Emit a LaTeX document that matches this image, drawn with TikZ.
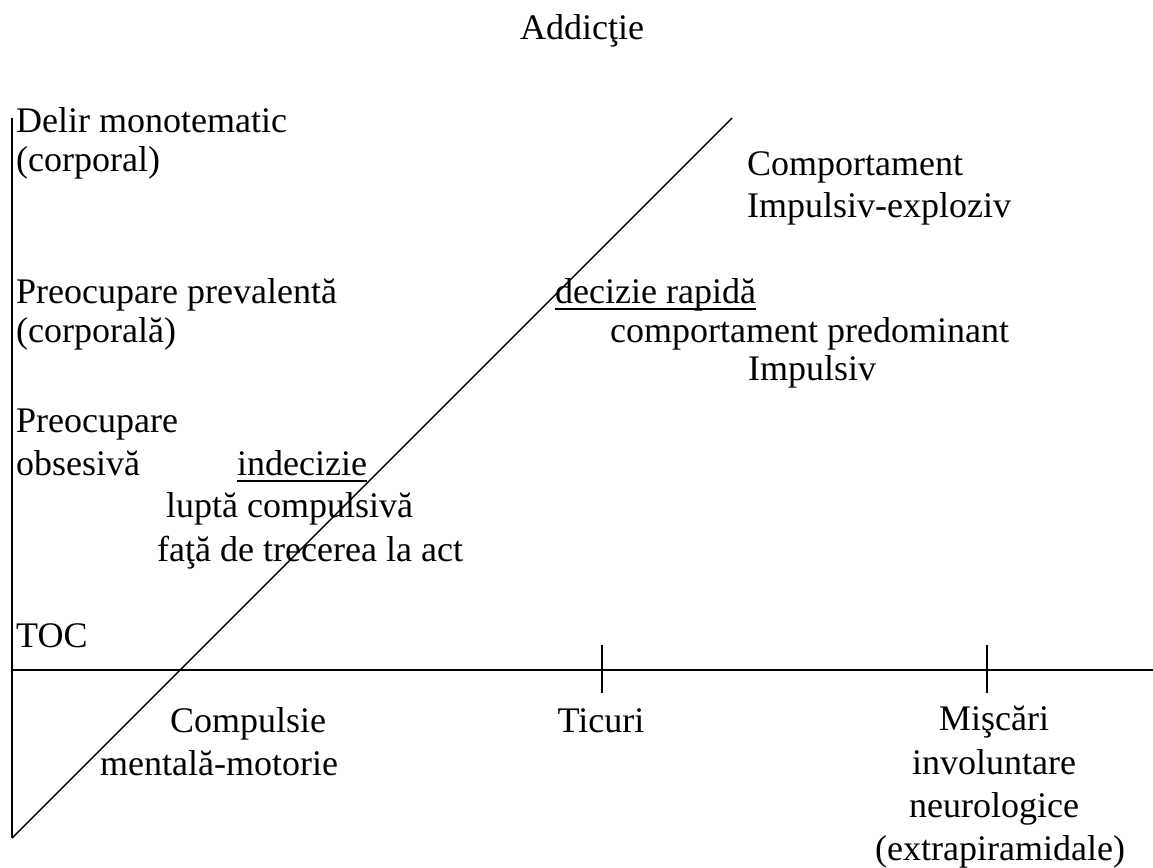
\documentclass[tikz,border=0pt]{standalone}
\usepackage{fontspec}
\setmainfont{Liberation Serif}
\begin{document}
\begin{tikzpicture}[x=1pt,y=-1pt,
  lbl/.style={anchor=base west,inner sep=0pt,font=\fontsize{36}{42}\selectfont},
  clbl/.style={anchor=base,inner sep=0pt,font=\fontsize{36}{42}\selectfont},
  axis/.style={line width=1.8pt},
  diag/.style={line width=1.4pt},
  uline/.style={line width=1.8pt}]
\useasboundingbox (0,0) rectangle (1153,867);
% axes
\coordinate (vtop) at (12,118);
\coordinate (orig) at (12,838);
\coordinate (hleft) at (12,670);
\coordinate (hright) at (1153,670);
\coordinate (dtop) at (732,118);
\coordinate (t1a) at (602,645); \coordinate (t1b) at (602,693);
\coordinate (t2a) at (987,645); \coordinate (t2b) at (987,693);
\draw[axis] (vtop) -- (orig);
\draw[axis] (hleft) -- (hright);
\draw[diag] (orig) -- (dtop);
\draw[axis] (t1a) -- (t1b);
\draw[axis] (t2a) -- (t2b);
% title
\node[clbl] (title) at (582,40) {Addicţie};
% left column
\node[lbl] (delir) at (16,132) {Delir monotematic};
\node[lbl] (corp) at (16,171) {(corporal)};
\node[lbl] (prev) at (16,303) {Preocupare prevalentă};
\node[lbl] (corpa) at (16,342) {(corporală)};
\node[lbl] (preo) at (16,432) {Preocupare};
\node[lbl] (obs) at (16,475) {obsesivă};
\node[lbl] (toc) at (16,647) {TOC};
% middle
\node[lbl] (indec) at (237,475) {indecizie};
\draw[uline] ([yshift=-6pt]indec.base west) -- ([yshift=-6pt]indec.base east);
\node[lbl] (lupta) at (166,517) {luptă compulsivă};
\node[lbl] (fata) at (157,561) {faţă de trecerea la act};
% right
\node[lbl] (comp) at (747,175) {Comportament};
\node[lbl] (expl) at (747,217) {Impulsiv-exploziv};
\node[lbl] (dec) at (555,303) {decizie rapidă};
\draw[uline] ([yshift=-6pt]dec.base west) -- ([yshift=-6pt]dec.base east);
\node[lbl] (pred) at (610,342) {comportament predominant};
\node[lbl] (imp) at (748,380) {Impulsiv};
% bottom
\node[lbl] (compu) at (170,732) {Compulsie};
\node[lbl] (ment) at (100,775) {mentală-motorie};
\node[clbl] (tic) at (601,732) {Ticuri};
\node[clbl] (misc) at (994,730) {Mişcări};
\node[clbl] (inv) at (994,774) {involuntare};
\node[clbl] (neur) at (994,817) {neurologice};
\node[clbl] (extr) at (1000,860) {(extrapiramidale)};
\end{tikzpicture}
\end{document}
